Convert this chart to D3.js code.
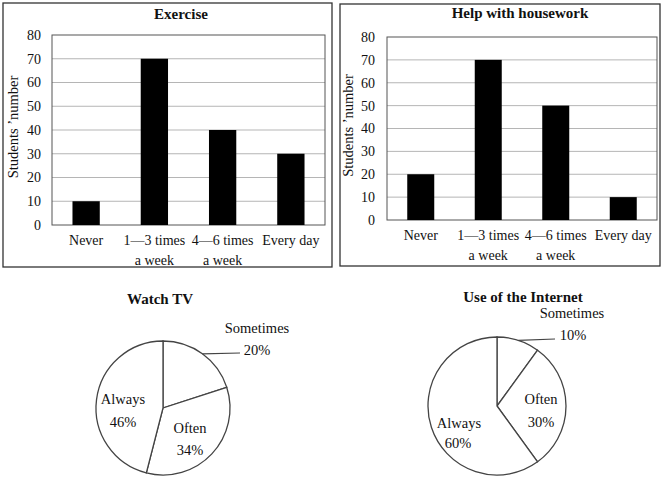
<!DOCTYPE html>
<meta charset="utf-8">
<html lang="en">
  <head>
    <script src="https://cdn.jsdelivr.net/npm/d3@7"></script>
    <style>
      body { margin: 0; background: #fff; }
      text { font-family: "Liberation Serif", "DejaVu Serif", serif; fill: #111; }
    </style>
  </head>
  <body>
    <svg id="chart" width="665" height="481"></svg>
  <script>
    // bar chart data
    const barCategories = ['Never', '1\u20143 times|a week', '4\u20146 times|a week', 'Every day'];
    const exerciseValues = [10, 70, 40, 30];
    const houseworkValues = [20, 70, 50, 10];
    const yTicks = [0, 10, 20, 30, 40, 50, 60, 70, 80];

    // pie chart data
    const pieCategories = ['Sometimes', 'Often', 'Always'];
    const tvValues = [20, 34, 46];
    const internetValues = [10, 30, 60];

    const svg = d3.select('#chart');
    const serif = 'Liberation Serif';

    function barPanel(opt, values) {
      const g = svg.append('g');
      g.append('rect')
        .attr('x', opt.box[0]).attr('y', opt.box[1])
        .attr('width', opt.box[2] - opt.box[0]).attr('height', opt.box[3] - opt.box[1])
        .attr('fill', 'none').attr('stroke', '#333').attr('stroke-width', 1.3);

      const x = d3.scaleBand().domain(barCategories)
        .range([opt.plot[0], opt.plot[2]]).paddingInner(0.6).paddingOuter(0.3);
      const y = d3.scaleLinear().domain([0, 80]).range([opt.plot[3], opt.plot[1]]);

      // grid
      g.append('g').selectAll('line').data(yTicks.slice(1, -1)).enter()
        .append('line')
        .attr('x1', opt.plot[0]).attr('x2', opt.plot[2])
        .attr('y1', d => y(d)).attr('y2', d => y(d))
        .attr('stroke', '#b5b5b5').attr('stroke-width', 1);

      g.append('rect')
        .attr('x', opt.plot[0]).attr('y', y(80))
        .attr('width', opt.plot[2] - opt.plot[0]).attr('height', y(0) - y(80))
        .attr('fill', 'none').attr('stroke', '#555').attr('stroke-width', 1);

      g.append('g').selectAll('rect').data(values).enter()
        .append('rect')
        .attr('x', (d, i) => x(barCategories[i]))
        .attr('width', x.bandwidth())
        .attr('y', d => y(d))
        .attr('height', d => y(0) - y(d))
        .attr('fill', '#000');

      // y axis labels
      const yAxis = d3.axisLeft(y).tickValues(yTicks).tickSize(0).tickPadding(opt.plot[0] - opt.tickRight);
      const ya = g.append('g').attr('transform', `translate(${opt.plot[0]},0)`).call(yAxis)
        .attr('font-family', serif).attr('font-size', 14);
      ya.select('.domain').remove();
      ya.selectAll('text').attr('fill', '#111');

      // x axis labels
      const xl = g.append('g').selectAll('text').data(barCategories).enter()
        .append('text')
        .attr('text-anchor', 'middle')
        .attr('font-size', '14px')
        .attr('x', d => x(d) + x.bandwidth() / 2)
        .attr('y', opt.plot[3] + 20);
      xl.selectAll('tspan').data(d => d.split('|')).enter()
        .append('tspan')
        .attr('x', function() { return d3.select(this.parentNode).attr('x'); })
        .attr('dy', (d, i) => i ? 20 : 0)
        .text(d => d);

      g.append('text')
        .attr('transform', `translate(${opt.ylabelX},${(opt.plot[1] + opt.plot[3]) / 2 - 3}) rotate(-90)`)
        .attr('text-anchor', 'middle').attr('dy', '0.35em')
        .attr('font-size', '14.5px')
        .text('Students \u2019number');

      g.append('text')
        .attr('x', opt.titleX).attr('y', opt.titleY)
        .attr('text-anchor', 'middle')
        .attr('font-size', '15px').attr('font-weight', 'bold')
        .text(opt.title);
    }

    barPanel({ title: 'Exercise', box: [3, 3, 332, 267], plot: [52, 35, 325, 225],
      tickRight: 41, ylabelX: 13, titleX: 181, titleY: 19 }, exerciseValues);
    barPanel({ title: 'Help with housework', box: [340, 4, 660, 266], plot: [387, 37, 657, 220],
      tickRight: 375, ylabelX: 348, titleX: 520, titleY: 18 }, houseworkValues);

    function piePanel(opt, values) {
      const g = svg.append('g').attr('transform', `translate(${opt.cx},${opt.cy})`);
      const arcs = d3.pie().sort(null)(values);
      const arc = d3.arc().innerRadius(0).outerRadius(opt.r);

      g.selectAll('path').data(arcs).enter()
        .append('path')
        .attr('d', arc)
        .attr('fill', '#fff')
        .attr('stroke', '#444').attr('stroke-width', 1.3);

      // leader line for the small slice
      const a0 = arcs[0];
      const mid = (a0.startAngle + a0.endAngle) / 2;
      g.append('line')
        .attr('x1', Math.sin(mid) * opt.r).attr('y1', -Math.cos(mid) * opt.r)
        .attr('x2', opt.leaderEnd[0]).attr('y2', opt.leaderEnd[1])
        .attr('stroke', '#444').attr('stroke-width', 1.2);

      arcs.forEach((d, i) => {
        const p = opt.labels[i];
        g.append('text').attr('text-anchor', 'middle').attr('font-size', '14.5px')
          .attr('x', p[0]).attr('y', p[1]).text(pieCategories[i]);
        g.append('text').attr('text-anchor', 'middle').attr('font-size', '14.5px')
          .attr('x', p[2]).attr('y', p[3]).text(values[i] + '%');
      });

      svg.append('text')
        .attr('x', opt.titleX).attr('y', opt.titleY)
        .attr('text-anchor', 'middle')
        .attr('font-size', '15px').attr('font-weight', 'bold')
        .text(opt.title);
    }

    piePanel({ title: 'Watch TV', cx: 163, cy: 408, r: 67, titleX: 160, titleY: 304,
      leaderEnd: [77, -55],
      labels: [[94, -75, 94, -53], [27, 25, 27, 47], [-40, -4, -40, 19]] }, tvValues);
    piePanel({ title: 'Use of the Internet', cx: 497, cy: 406, r: 69, titleX: 523, titleY: 302,
      leaderEnd: [58, -67],
      labels: [[75, -88, 76, -66], [44, -2, 44, 21], [-38, 22, -39, 42]] }, internetValues);
  </script>
  </body>
</html>
